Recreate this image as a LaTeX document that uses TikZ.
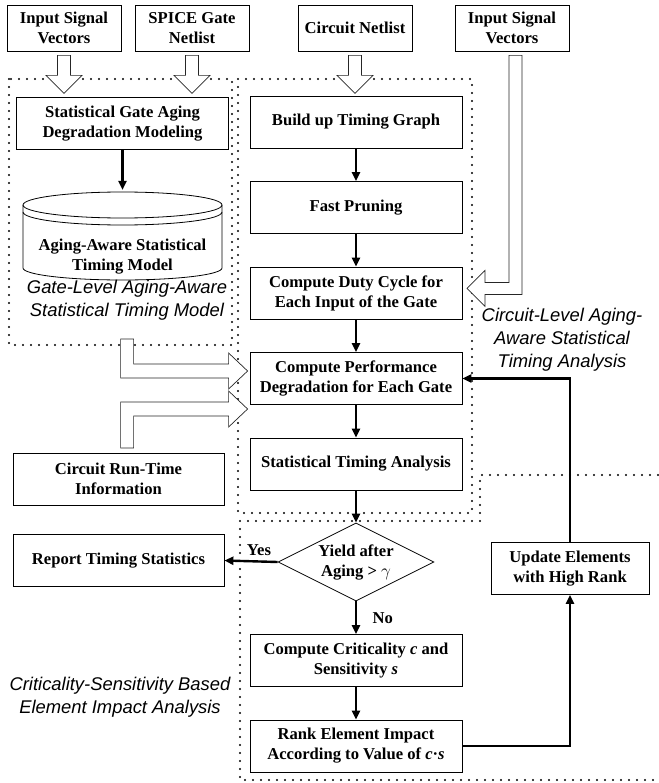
\documentclass[tikz,border=0pt]{standalone}
\usepackage{fontspec}
\setmainfont{Liberation Serif}
\newfontfamily\lblfont{Liberation Sans}
\usetikzlibrary{arrows.meta, positioning, shapes.geometric}

\tikzset{
  tag/.style = {font=\fontsize{16.6}{20}\selectfont\bfseries},
  box/.style = {tag, draw, line width=0.8pt, fill=white, minimum width=212pt,
    minimum height=52pt, inner sep=0pt, align=center},
  srcbox/.style = {box, minimum width=114pt, minimum height=46pt},
  decision/.style = {tag, diamond, draw, line width=0.8pt, fill=white, aspect=2,
    minimum width=156pt, minimum height=78pt, inner sep=0pt, align=center},
  flow/.style = {-{Triangle[length=9pt,width=8pt]}, line width=2.4pt},
  hollow/.style = {draw=black!85, line width=0.7pt, fill=white},
  region/.style = {line width=2.4pt, dash pattern=on 0pt off 8pt, line cap=round},
  note/.style = {align=center, font=\lblfont\itshape\fontsize{18.4}{23}\selectfont},
  hollow down/.pic = {
    \draw[hollow] (-6.5,0) -- (6.5,0) -- (6.5,20) -- (18,20) -- (0,38)
      -- (-18,20) -- (-6.5,20) -- cycle;
  }
}

\begin{document}
\begin{tikzpicture}[x=1pt, y=-1pt, node distance=85.5pt, on grid]
    \useasboundingbox (0,0) rectangle (658,783);

    % dotted regions
    \draw[region] (9,79) rectangle (232,345);
    \draw[region] (238,79) rectangle (472,513);
    \draw[region] (658,475) -- (480,475) -- (480,521) -- (240,521) -- (240,780) -- (658,780);

    % inputs
    \node (isvL) [srcbox] at (64,28) {Input Signal\\Vectors};
    \node (spice) [srcbox] at (192,28) {SPICE Gate\\Netlist};
    \node (cnet) [srcbox] at (355,28) {Circuit Netlist};
    \node (isvR) [srcbox] at (512,28) {Input Signal\\Vectors};

    % gate level
    \node (sgadm) [box] at (122.5,123.5) {Statistical Gate Aging\\Degradation Modeling};
    \draw[line width=0.8pt] (122.5,205) ellipse [x radius=99.5pt, y radius=13pt];
    \draw[line width=0.8pt] (222,212) arc[start angle=0, end angle=-180, x radius=99.5pt, y radius=13pt];
    \draw[line width=0.8pt] (23,205) -- (23,268) arc[start angle=180, end angle=360, x radius=99.5pt, y radius=12pt] -- (222,205);
    \node (atm) [tag, align=center] at (122.5,257) {Aging-Aware Statistical\\Timing Model};
    \coordinate (dbtop) at (122.5,190);
    \node (glabel) [note] at (127,300) {Gate-Level Aging-Aware\\Statistical Timing Model};

    % circuit level
    \node (build) [box] at (356,122) {Build up Timing Graph};
    \node (prune) [box, below=of build] {Fast Pruning};
    \node (duty) [box, below=of prune] {Compute Duty Cycle for\\Each Input of the Gate};
    \node (perf) [box, below=of duty] {Compute Performance\\Degradation for Each Gate};
    \node (sta) [box, below=of perf] {Statistical Timing Analysis};
    \node (clabel) [note] at (562,340) {Circuit-Level Aging-\\Aware Statistical\\Timing Analysis};

    % impact analysis
    \node (yield) [decision, below=98pt of sta] {Yield after\\Aging > $\gamma$};
    \node (crit) [box, below=98.5pt of yield] {Compute Criticality \textit{c} and\\Sensitivity \textit{s}};
    \node (rank) [box, below=of crit] {Rank Element Impact\\According to Value of \textit{c}·\textit{s}};
    \node (update) [box, minimum width=158pt] at (570,568.5) {Update Elements\\with High Rank};
    \node (elabel) [note] at (120,697) {Criticality-Sensitivity Based\\Element Impact Analysis};

    % run-time side
    \node (crt) [box, minimum width=211pt] at (118.5,479) {Circuit Run-Time\\Information};
    \node (report) [box, minimum width=211pt, below=81.5pt of crt] {Report Timing Statistics};

    % hollow arrows
    \pic at ([yshift=-4pt]isvL.south) {hollow down};
    \pic at ([yshift=-4pt]spice.south) {hollow down};
    \pic at ([yshift=-4pt]cnet.south) {hollow down};
    \draw[hollow] ([xshift=-3pt,yshift=-4pt]isvR.south) -- ++(13,0) -- ++(0,239) -- ++(-37,0)
        -- ++(0,12) -- ++(-18,-18) -- ++(18,-18) -- ++(0,12) -- ++(24,0) -- cycle;
    \draw[hollow] ([shift={(-2pt,7.5pt)}]perf.west) -- ++(-19,18) -- ++(0,-11) -- ++(-108,0)
        -- ++(0,-39) -- ++(13,0) -- ++(0,25) -- ++(95,0) -- ++(0,-11) -- cycle;
    \draw[hollow] ([shift={(-2pt,-30.5pt)}]perf.west) -- ++(-19,-18) -- ++(0,11) -- ++(-108,0)
        -- ++(0,46) -- ++(13,0) -- ++(0,-32) -- ++(95,0) -- ++(0,11) -- cycle;

    % flow
    \draw[flow] (sgadm) -- (dbtop);
    \draw[flow] (build) -- (prune);
    \draw[flow] (prune) -- (duty);
    \draw[flow] (duty) -- (perf);
    \draw[flow] (perf) -- (sta);
    \draw[flow] (sta) -- (yield);
    \draw[flow] (yield.west) -- node[tag, pos=0.35, above=1pt] {Yes} (report.east);
    \draw[flow] (yield) -- node[tag, right=12pt] {No} (crit);
    \draw[flow] (crit) -- (rank);
    \draw[flow] (rank) -| (update);
    \draw[flow] (update) |- (perf);
\end{tikzpicture}
\end{document}
